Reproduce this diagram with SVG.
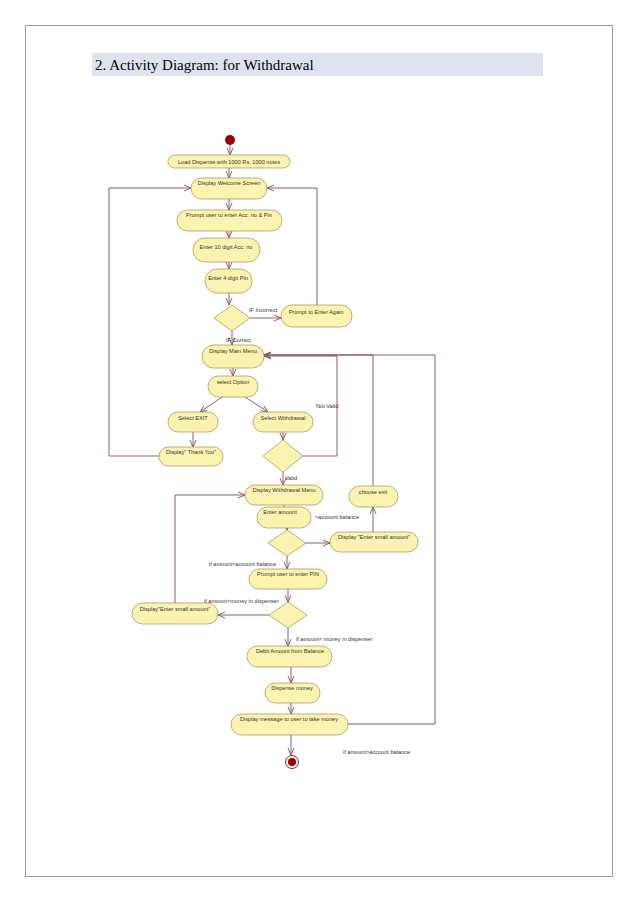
<svg xmlns="http://www.w3.org/2000/svg" width="638" height="903" viewBox="0 0 638 903">
<style>
.n rect,.n polygon{fill:#fbf3b0;stroke:#b09a60;stroke-width:0.8}
.n text{font-family:"Liberation Sans",Arial,sans-serif;font-size:5.6px;fill:#333;text-anchor:middle}
.c path{fill:none;stroke:#8a4a55;stroke-width:0.9}
.c path.a{marker-end:url(#ar)}
.l{font-family:"Liberation Sans",Arial,sans-serif;font-size:5.6px;fill:#333}
</style>
<defs><marker id="ar" markerWidth="8" markerHeight="8" refX="7" refY="4" orient="auto" markerUnits="userSpaceOnUse"><path d="M0,1 L7,4 L0,7" fill="none" stroke="#8a4a55" stroke-width="0.9"/></marker></defs>
<rect x="0" y="0" width="638" height="903" fill="#fff"/>
<rect x="25.5" y="25.5" width="587" height="851" fill="none" stroke="#999" stroke-width="1"/>
<rect x="92" y="53" width="451" height="23" fill="#dfe3ef"/>
<text x="95" y="70" font-family="Liberation Serif,serif" font-size="15" fill="#000">2. Activity Diagram: for Withdrawal</text>
<g class="c">
<path class="a" d="M230,145 V155"/>
<path class="a" d="M229,168 V178"/>
<path class="a" d="M229,199 V210"/>
<path class="a" d="M229,231 V238"/>
<path class="a" d="M229,262 V269"/>
<path class="a" d="M229,293 V305"/>
<path class="a" d="M250,318 H281"/>
<path class="a" d="M317,305 V188 H267"/>
<path class="a" d="M232,331 V345"/>
<path class="a" d="M233,368 V376"/>
<path class="a" d="M222,397 L200,412"/>
<path class="a" d="M245,397 L268,412"/>
<path class="a" d="M193,432 V447"/>
<path class="a" d="M159,456 H109 V188 H191"/>
<path class="a" d="M283,432 V440"/>
<path class="a" d="M303,456 H337 V356 H264"/>
<path class="a" d="M283,472 V485"/>
<path d="M284,505 V507"/>
<path class="a" d="M287,528 V530"/>
<path class="a" d="M306,543 H330"/>
<path class="a" d="M373,532 V507"/>
<path class="a" d="M373,486 V355 H264"/>
<path class="a" d="M287,556 V569"/>
<path class="a" d="M288,589 V602"/>
<path class="a" d="M269,615 H218"/>
<path class="a" d="M175,603 V495 H245"/>
<path class="a" d="M288,628 V646"/>
<path class="a" d="M291,667 V683"/>
<path class="a" d="M291,703 V714"/>
<path class="a" d="M348,724 H435 V355 H264"/>
<path class="a" d="M291,735 V755"/>
</g>
<g id="start"><circle cx="230" cy="140" r="5" fill="#990000"/></g>
<g id="load" class="n"><rect x="168" y="155" width="122" height="13" rx="6.5"/><text x="229" y="163.5">Load Dispense with 1000 Rs. 1000 notes</text></g>
<g id="welcome" class="n"><rect x="191" y="178" width="76" height="21" rx="10.5"/><text x="229" y="185">Display Welcome Screen</text></g>
<g id="promptacc" class="n"><rect x="177" y="210" width="105" height="21" rx="10.5"/><text x="229" y="217">Prompt user to enter Acc. no &amp; Pin</text></g>
<g id="acc" class="n"><rect x="193" y="238" width="67" height="24" rx="12"/><text x="226" y="249">Enter 10 digit Acc. no</text></g>
<g id="pin" class="n"><rect x="205" y="269" width="47" height="24" rx="12"/><text x="228" y="280">Enter 4 digit Pin</text></g>
<g id="d1" class="n"><polygon points="232,305 250,318 232,331 214,318"/></g>
<g id="again" class="n"><rect x="281" y="305" width="71" height="22" rx="11"/><text x="316" y="314">Prompt to Enter Again</text></g>
<g id="mainmenu" class="n"><rect x="202" y="345" width="62" height="23" rx="11.5"/><text x="233" y="353">Display Main Menu</text></g>
<g id="option" class="n"><rect x="208" y="376" width="50" height="21" rx="10.5"/><text x="233" y="384">select Option</text></g>
<g id="exit" class="n"><rect x="168" y="412" width="50" height="20" rx="10"/><text x="193" y="420">Select EXIT</text></g>
<g id="withdrawal" class="n"><rect x="253" y="412" width="60" height="20" rx="10"/><text x="283" y="420">Select Withdrawal</text></g>
<g id="thanks" class="n"><rect x="159" y="447" width="64" height="19" rx="9.5"/><text x="191" y="454">Display" Thank You"</text></g>
<g id="d2" class="n"><polygon points="283,440 303,456 283,472 263,456"/></g>
<g id="wmenu" class="n"><rect x="245" y="485" width="78" height="20" rx="10"/><text x="284" y="492">Display Withdrawal Menu</text></g>
<g id="chooseexit" class="n"><rect x="349" y="486" width="49" height="21" rx="10.5"/><text x="373" y="494">choose exit</text></g>
<g id="amount" class="n"><rect x="257" y="507" width="54" height="21" rx="10.5"/><text x="280" y="514">Enter amount</text></g>
<g id="d3" class="n"><polygon points="287,530 306,543 287,556 268,543"/></g>
<g id="small1" class="n"><rect x="330" y="532" width="88" height="20" rx="10"/><text x="374" y="539">Display "Enter small amount"</text></g>
<g id="promptpin" class="n"><rect x="249" y="569" width="78" height="20" rx="10"/><text x="288" y="576">Prompt user to enter PIN</text></g>
<g id="d4" class="n"><polygon points="288,602 307,615 288,628 269,615"/></g>
<g id="small2" class="n"><rect x="132" y="603" width="86" height="21" rx="10.5"/><text x="175" y="611">Display"Enter small amount"</text></g>
<g id="debit" class="n"><rect x="247" y="646" width="85" height="21" rx="10.5"/><text x="290" y="653">Debit Amount from Balance</text></g>
<g id="dispense" class="n"><rect x="265" y="683" width="55" height="20" rx="10"/><text x="292" y="690">Dispense money</text></g>
<g id="message" class="n"><rect x="231" y="714" width="117" height="21" rx="10.5"/><text x="289" y="721">Display message to user to take money</text></g>
<g id="end"><circle cx="292" cy="762" r="6.5" fill="#fff" stroke="#990000" stroke-width="0.9"/><circle cx="292" cy="762" r="4" fill="#990000"/></g>
<text class="l" x="249" y="312">IF Incorrect</text>
<text class="l" x="226" y="342">IF Correct</text>
<text class="l" x="316" y="408">Not Valid</text>
<text class="l" x="285" y="480">Valid</text>
<text class="l" x="315" y="519">&gt;account balance</text>
<text class="l" x="209" y="566">if amount&lt;account balance</text>
<text class="l" x="204" y="603">if amount&gt;money in dispenser</text>
<text class="l" x="296" y="641">if amount&lt; money in dispenser</text>
<text class="l" x="343" y="754">if amount&gt;account balance</text>
</svg>
